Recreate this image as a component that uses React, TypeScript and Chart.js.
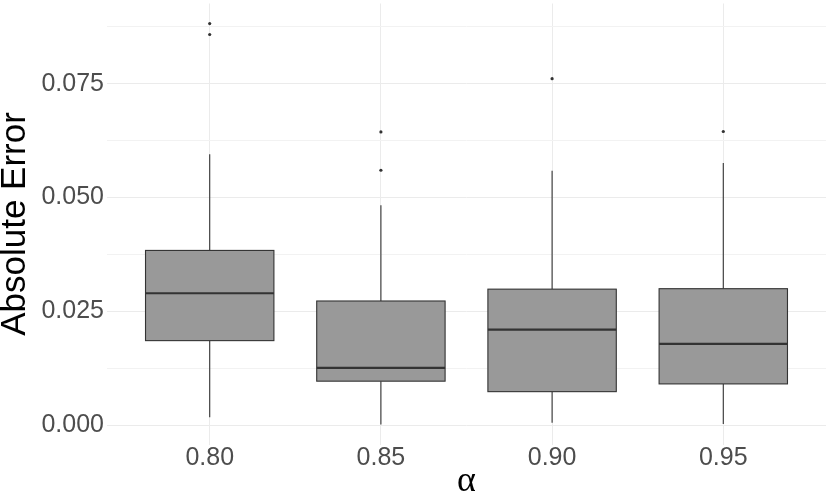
import React, { useEffect, useRef } from "react";
import { Chart, registerables } from "chart.js";

Chart.register(...registerables);

const categories = ["0.80", "0.85", "0.90", "0.95"];
const whiskerLow = [0.0018, 0.0002, 0.0006, 0.0003];
const q1 = [0.0186, 0.0097, 0.0074, 0.0091];
const median = [0.029, 0.0126, 0.021, 0.0179];
const q3 = [0.0384, 0.0273, 0.0299, 0.03];
const whiskerHigh = [0.0595, 0.0483, 0.0559, 0.0576];
const outliers = [[0.0882, 0.0858], [0.0644, 0.056], [0.0761], [0.0645]];
const yTicks = [0, 0.0125, 0.025, 0.0375, 0.05, 0.0625, 0.075, 0.0875];

const boxPlugin = {
  id: "boxes",
  beforeDatasetsDraw(chart: any) {
    const { ctx, scales } = chart;
    const xs = scales.x;
    const ys = scales.y;
    ctx.save();
    for (let i = 0; i < categories.length; i++) {
      const cx = xs.getPixelForValue(i + 1);
      const hw = xs.getPixelForValue(i + 1 + 0.375) - cx;
      const yLo = ys.getPixelForValue(whiskerLow[i]);
      const yQ1 = ys.getPixelForValue(q1[i]);
      const yMed = ys.getPixelForValue(median[i]);
      const yQ3 = ys.getPixelForValue(q3[i]);
      const yHi = ys.getPixelForValue(whiskerHigh[i]);
      ctx.strokeStyle = "#333333";
      ctx.lineWidth = 1.1;
      ctx.beginPath();
      ctx.moveTo(cx, yHi);
      ctx.lineTo(cx, yQ3);
      ctx.moveTo(cx, yQ1);
      ctx.lineTo(cx, yLo);
      ctx.stroke();
      ctx.fillStyle = "#999999";
      ctx.fillRect(cx - hw, yQ3, 2 * hw, yQ1 - yQ3);
      ctx.strokeRect(cx - hw, yQ3, 2 * hw, yQ1 - yQ3);
      ctx.lineWidth = 2.2;
      ctx.beginPath();
      ctx.moveTo(cx - hw, yMed);
      ctx.lineTo(cx + hw, yMed);
      ctx.stroke();
    }
    ctx.restore();
  },
};

export default function App() {
  const ref = useRef<HTMLCanvasElement>(null);
  useEffect(() => {
    const pts: { x: number; y: number }[] = [];
    outliers.forEach((arr, i) => arr.forEach((v) => pts.push({ x: i + 1, y: v })));
    const chart = new Chart(ref.current as HTMLCanvasElement, {
      type: "scatter",
      data: {
        datasets: [
          {
            data: pts,
            pointRadius: 1.6,
            pointBackgroundColor: "#333333",
            pointBorderWidth: 0,
            pointHoverRadius: 1.6,
          },
        ],
      },
      plugins: [boxPlugin],
      options: {
        animation: false,
        responsive: false,
        maintainAspectRatio: false,
        events: [],
        layout: { padding: { top: 3.5, right: 4, left: 0, bottom: 0 } },
        plugins: { legend: { display: false }, tooltip: { enabled: false } },
        scales: {
          x: {
            type: "linear",
            min: 0.4,
            max: 4.6,
            afterBuildTicks: (s: any) => {
              s.ticks = categories.map((_, i) => ({ value: i + 1 }));
            },
            afterFit: (s: any) => {
              s.height = 58.5;
              s.paddingLeft = 0;
              s.paddingRight = 0;
            },
            ticks: {
              padding: 1.5,
              color: "#4D4D4D",
              font: { family: "Liberation Sans", size: 25, lineHeight: 1 },
              callback: (v: any) => categories[Math.round(v) - 1] ?? "",
              maxRotation: 0,
              autoSkip: false,
            },
            grid: { color: "#EBEBEB", lineWidth: 1, drawTicks: false },
            border: { display: false },
            title: {
              display: true,
              text: "α",
              color: "#000000",
              font: { family: "Liberation Serif", size: 36, lineHeight: 1 },
              padding: { top: 0, bottom: 3 },
            },
          },
          y: {
            type: "linear",
            min: -0.0042,
            max: 0.0926,
            afterBuildTicks: (s: any) => {
              s.ticks = yTicks.map((v) => ({ value: v }));
            },
            afterFit: (s: any) => {
              s.width = 107;
              s.paddingTop = 0;
              s.paddingBottom = 0;
            },
            ticks: {
              padding: 3,
              color: "#4D4D4D",
              font: { family: "Liberation Sans", size: 25, lineHeight: 1 },
              callback: (v: any, i: number) => (i % 2 === 0 ? Number(v).toFixed(3) : ""),
              autoSkip: false,
            },
            grid: {
              color: (c: any) => (c.index % 2 === 0 ? "#EBEBEB" : "#F2F2F2"),
              lineWidth: 1,
              drawTicks: false,
            },
            border: { display: false },
            title: {
              display: true,
              text: "Absolute Error",
              color: "#000000",
              font: { family: "Liberation Sans", size: 35, lineHeight: 1 },
              padding: { top: -2, bottom: 0 },
            },
          },
        },
      },
    });
    return () => chart.destroy();
  }, []);
  return (
    <div style={{ position: "fixed", left: 0, top: 0, width: 830, height: 503, background: "#fff" }}>
      <canvas ref={ref} width={830} height={503} style={{ width: 830, height: 503 }} />
    </div>
  );
}
